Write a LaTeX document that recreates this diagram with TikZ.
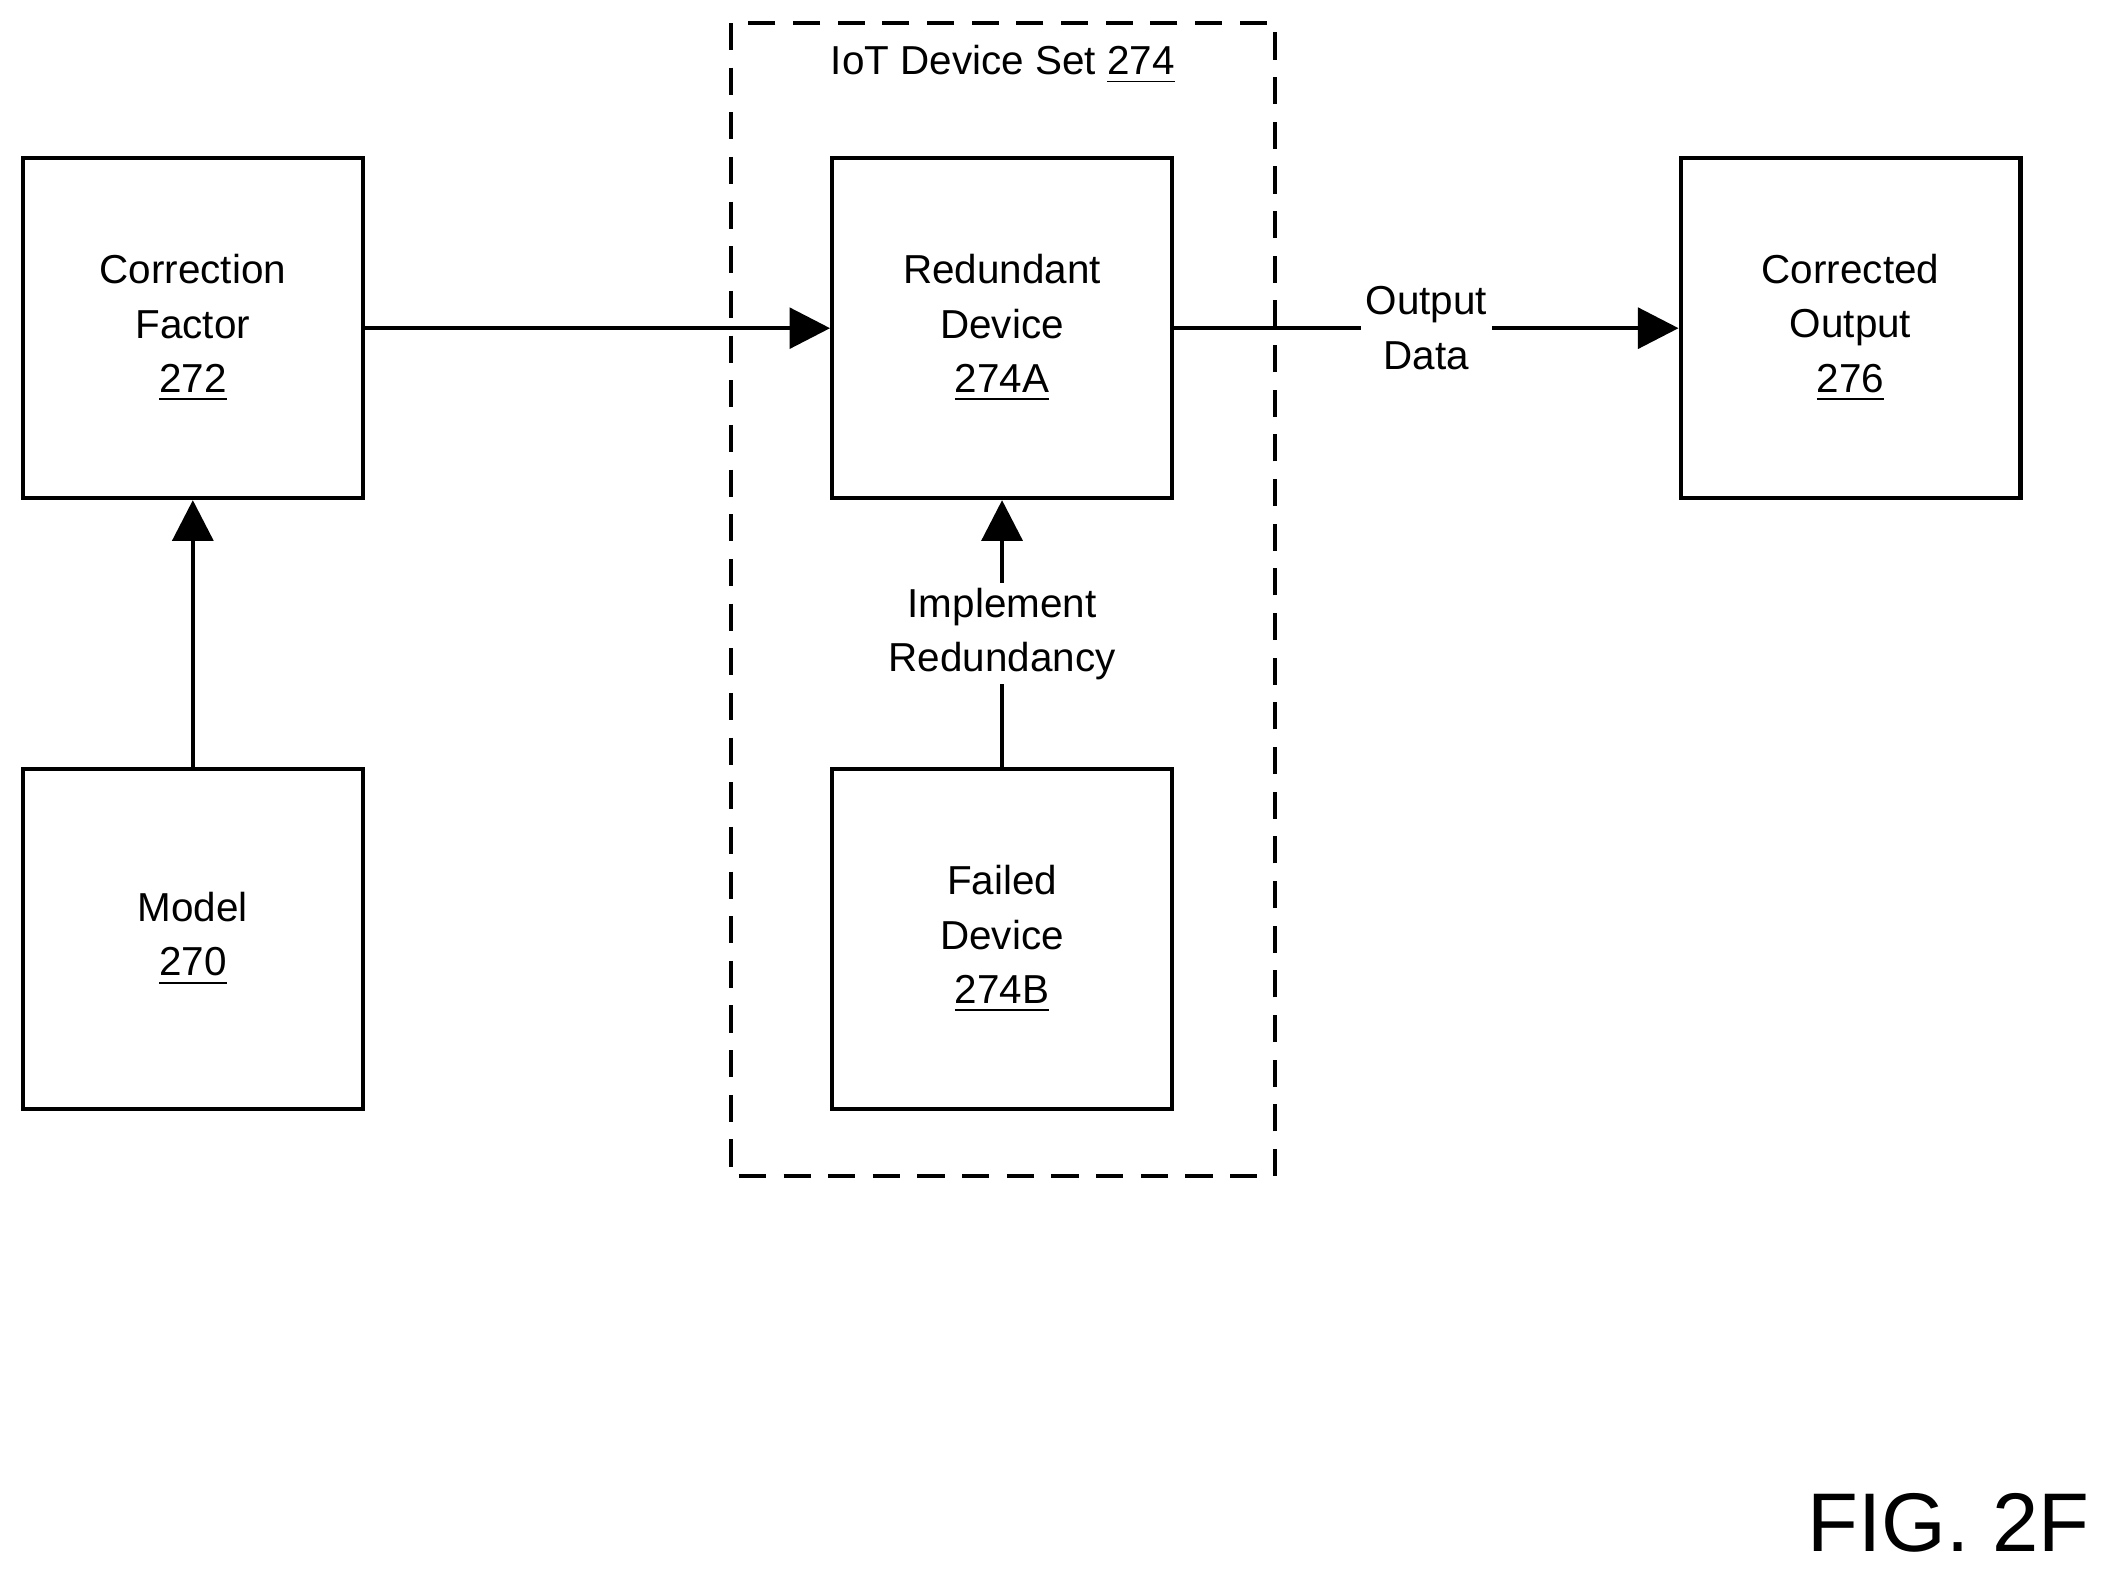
\documentclass[tikz,border=0pt]{standalone}
\usepackage{fontspec}
\setmainfont{Liberation Sans}
\usetikzlibrary{arrows.meta,positioning}
\tikzset{
  blk/.style={draw, line width=0.9pt, minimum width=2.51cm, minimum height=2.51cm,
    align=center, font=\fontsize{8.5}{11.4}\selectfont},
  lbl/.style={fill=white, align=center, inner sep=1pt, font=\fontsize{8.5}{11.4}\selectfont},
  flow/.style={line width=0.9pt, -{Triangle[length=0.3cm,width=0.3cm]}}
}
\begin{document}
\begin{tikzpicture}
    \useasboundingbox (0,0) rectangle (15.6,-11.59);
    % IoT device set
    \draw[line width=0.9pt, dash pattern=on 0.2cm off 0.13cm] (5.4,-0.17) rectangle (9.42,-8.69);
    \node (set) at (7.41,-0.48) [font=\fontsize{8.5}{11.4}\selectfont] {IoT Device Set \underline{274}};

    % Blocks
    \node (cf) at (1.425,-2.425) [blk] {Correction\\Factor\\\underline{272}};
    \node (model) at (1.425,-6.94) [blk] {Model\\\underline{270}};
    \node (red) at (7.405,-2.425) [blk] {Redundant\\Device\\\underline{274A}};
    \node (fail) at (7.405,-6.94) [blk] {Failed\\Device\\\underline{274B}};
    \node (out) at (13.675,-2.425) [blk] {Corrected\\Output\\\underline{276}};

    % Connectors
    \draw[flow] (model) -- (cf);
    \draw[flow] (cf) -- (red);
    \draw[flow] (fail) -- node[lbl] {Implement\\Redundancy} (red);
    \draw[flow] (red) -- node[lbl, pos=0.5] {Output\\Data} (out);

    \node (fig) at (14.4,-11.25) [font=\fontsize{17.5}{20}\selectfont] {FIG. 2F};
\end{tikzpicture}
\end{document}
